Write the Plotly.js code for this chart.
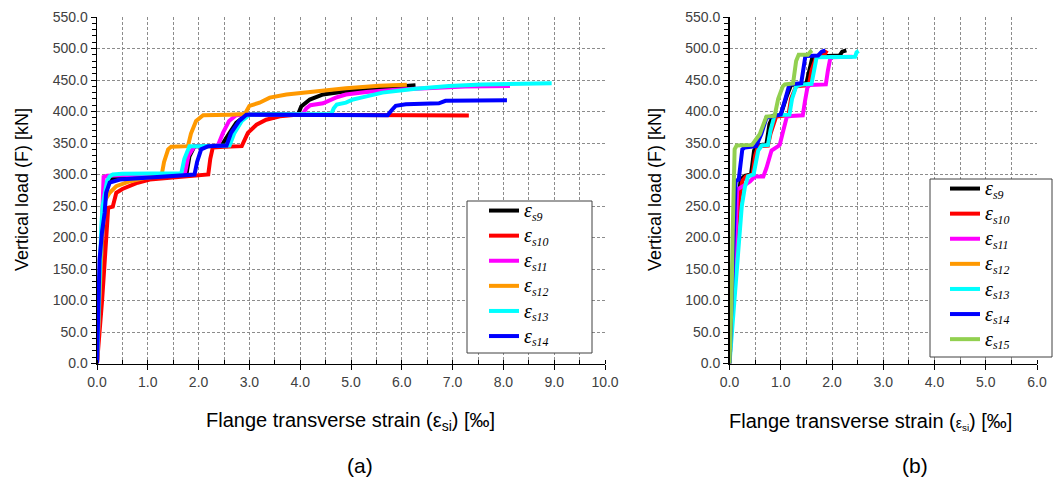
<!DOCTYPE html>
<html>
<head>
<meta charset="utf-8">
<script src="https://cdn.plot.ly/plotly-3.0.1.min.js"></script>
<style>html,body{margin:0;padding:0;background:#fff;}#chart{width:1053px;height:482px;}</style>
</head>
<body>
<div id="chart"></div>
<script>
// ---------- Data: panel (a) ----------
const a_s9_x  = [0, 0.03, 0.06, 0.1, 0.14, 0.18, 0.25, 0.5, 1.0, 1.5, 1.76, 1.82, 1.92, 2.2, 2.45, 2.61, 2.74, 2.94, 3.3, 3.96, 4.02, 4.19, 4.45, 4.9, 5.5, 6.0, 6.27];
const a_s9_F  = [0, 60, 130, 200, 250, 280, 293, 296, 298, 299, 300, 329, 345, 345, 346, 366, 382, 395, 395, 396, 408, 419, 427, 432, 437, 440, 441.6];
const a_s10_x = [0, 0.05, 0.1, 0.15, 0.18, 0.22, 0.31, 0.38, 0.5, 0.64, 0.8, 1.04, 1.3, 1.63, 1.99, 2.15, 2.19, 2.23, 2.28, 2.5, 2.85, 2.97, 3.14, 3.33, 3.6, 3.92, 4.5, 5.5, 6.5, 7.32];
const a_s10_F = [0, 45, 100, 160, 200, 247, 249, 271, 277, 282, 287, 292, 294, 296, 298, 300, 300, 325, 343, 344, 345, 366, 379, 387, 392.5, 395, 395, 394.5, 394, 393.5];
const a_s11_x = [0, 0.03, 0.06, 0.09, 0.11, 0.13, 0.2, 0.5, 1.0, 1.5, 1.73, 1.8, 1.92, 2.1, 2.38, 2.48, 2.6, 2.74, 3.0, 3.5, 4.05, 4.12, 4.2, 4.45, 4.55, 4.7, 4.9, 5.3, 5.95, 6.6, 7.25, 8.13];
const a_s11_F = [0, 70, 150, 230, 280, 296, 298, 299, 300, 300, 301, 330, 345, 345, 346, 366, 385, 394, 395, 395, 396, 405, 410, 413, 417, 422, 427, 431, 435, 438, 439.5, 440.5];
const a_s12_x = [0, 0.03, 0.06, 0.09, 0.12, 0.18, 0.25, 0.38, 0.64, 0.97, 1.27, 1.32, 1.4, 1.46, 1.6, 1.79, 1.85, 1.95, 2.09, 2.3, 2.6, 2.91, 2.96, 3.0, 3.2, 3.4, 3.73, 4.25, 4.9, 5.56, 6.1];
const a_s12_F = [0, 60, 130, 200, 250, 262, 271, 281.5, 289, 295, 298, 320, 340, 344, 344, 345, 365, 385, 394, 395, 395, 396, 405, 409, 414, 422, 427, 432, 437, 441, 442.5];
const a_s13_x = [0, 0.02, 0.04, 0.06, 0.085, 0.11, 0.15, 0.2, 0.25, 0.31, 0.5, 1.0, 1.4, 1.66, 1.72, 1.82, 2.0, 2.3, 2.61, 2.7, 2.85, 3.0, 3.5, 4.0, 4.61, 4.66, 4.72, 4.9, 5.04, 5.2, 5.43, 5.62, 6.27, 6.93, 7.58, 8.23, 8.95];
const a_s13_F = [0, 60, 112, 165, 218, 250, 271, 290, 297, 300, 301, 301.5, 302, 302, 325, 345, 345, 345, 346, 365, 385, 395, 395, 395, 396, 405, 411, 414, 419, 422, 427, 430, 436, 440.5, 443, 444.5, 445];
const a_s14_x = [0, 0.03, 0.05, 0.1, 0.15, 0.18, 0.25, 0.45, 0.97, 1.3, 1.63, 1.92, 1.97, 2.05, 2.19, 2.4, 2.55, 2.64, 2.8, 2.94, 3.5, 4.0, 4.5, 5.0, 5.5, 5.72, 5.8, 5.88, 6.08, 6.5, 6.73, 6.86, 7.5, 8.07];
const a_s14_F = [0, 100, 165, 210, 239, 271, 287, 292, 295, 297, 299, 300, 320, 340, 345, 345, 346, 366, 385, 395, 395, 395, 395, 394.5, 394, 394, 402, 409, 411.6, 412.5, 413, 417, 418, 418];

// ---------- Data: panel (b) ----------
const b_s9_x  = [0, 0.04, 0.08, 0.12, 0.16, 0.22, 0.3, 0.42, 0.48, 0.55, 0.72, 0.78, 0.85, 1.0, 1.12, 1.2, 1.5, 1.56, 1.62, 2.15, 2.2, 2.28];
const b_s9_F  = [0, 80, 150, 210, 255, 292, 298, 300, 338, 346, 348, 380, 393, 395, 425, 442, 445, 470, 487, 489, 495, 497];
const b_s10_x = [0, 0.04, 0.08, 0.12, 0.17, 0.25, 0.32, 0.45, 0.5, 0.56, 0.75, 0.8, 0.91, 1.15, 1.2, 1.3, 1.55, 1.6, 1.7, 1.85, 1.9];
const b_s10_F = [0, 70, 140, 200, 250, 290, 297, 300, 330, 345, 346, 365, 392, 394, 420, 440, 442, 465, 488, 490, 497];
const b_s11_x = [0, 0.04, 0.08, 0.12, 0.15, 0.31, 0.4, 0.5, 0.66, 0.72, 0.76, 0.82, 0.95, 0.98, 1.05, 1.12, 1.2, 1.43, 1.47, 1.52, 1.56, 1.88, 1.92, 1.97, 2.4];
const b_s11_F = [0, 60, 130, 210, 276, 284, 289, 297, 297, 310, 323, 338, 345, 347, 370, 392, 393, 394, 415, 438, 442, 443, 465, 486, 487];
const b_s12_x = [0, 0.03, 0.05];
const b_s12_F = [0, 60, 120];
const b_s13_x = [0, 0.05, 0.1, 0.14, 0.19, 0.24, 0.3, 0.36, 0.47, 0.52, 0.56, 0.63, 0.75, 0.8, 0.88, 1.17, 1.22, 1.3, 1.42, 1.6, 1.65, 1.7, 2.45, 2.48, 2.52];
const b_s13_F = [0, 50, 100, 150, 200, 250, 280, 297, 300, 320, 338, 346, 347, 370, 394, 395, 420, 440, 443, 444, 470, 486, 487, 494, 496];
const b_s14_x = [0, 0.03, 0.06, 0.1, 0.12, 0.18, 0.22, 0.25, 0.3, 0.52, 0.62, 0.72, 0.88, 1.0, 1.09, 1.17, 1.4, 1.44, 1.48, 1.73, 1.8, 1.87];
const b_s14_F = [0, 80, 150, 250, 290, 292, 330, 340, 343, 345, 364, 390, 393, 395, 420, 443, 445, 470, 488, 489, 495, 497];
const b_s15_x = [0, 0.02, 0.04, 0.06, 0.08, 0.1, 0.14, 0.44, 0.59, 0.72, 0.88, 0.95, 1.04, 1.08, 1.24, 1.3, 1.35, 1.53, 1.58, 1.61];
const b_s15_F = [0, 50, 100, 200, 300, 340, 346, 347, 364, 392, 393, 420, 440, 443, 444.5, 480, 490, 490, 495, 497];

// ---------- Labels ----------
const names_a = ['s9', 's10', 's11', 's12', 's13', 's14'];
const names_b = ['s9', 's10', 's11', 's12', 's13', 's14', 's15'];
const colors = {s9:'#000000', s10:'#ff0000', s11:'#ff00ff', s12:'#ff9900', s13:'#00ffff', s14:'#0000ff', s15:'#92d050'};
const yTitle = 'Vertical load (F) [kN]';
const xTitleA = 'Flange transverse strain (ε<sub>si</sub>) [‰]';
const xTitleB = 'Flange transverse strain (<span style="font-size:14px">ε<sub>si</sub></span>) [‰]';
const panelA = '(a)', panelB = '(b)';

const dataA = {s9:[a_s9_x,a_s9_F], s10:[a_s10_x,a_s10_F], s11:[a_s11_x,a_s11_F], s12:[a_s12_x,a_s12_F], s13:[a_s13_x,a_s13_F], s14:[a_s14_x,a_s14_F]};
const dataB = {s9:[b_s9_x,b_s9_F], s10:[b_s10_x,b_s10_F], s11:[b_s11_x,b_s11_F], s12:[b_s12_x,b_s12_F], s13:[b_s13_x,b_s13_F], s14:[b_s14_x,b_s14_F], s15:[b_s15_x,b_s15_F]};

const W = 1053, H = 482;
const px = v => v / W;
const py = v => 1 - v / H;
const legName = n => '<i><span style="font-size:20px">ε</span><sub>' + n + '</sub></i>';

const traces = [];
names_a.forEach(n => traces.push({
  x: dataA[n][0], y: dataA[n][1], type: 'scatter', mode: 'lines',
  name: legName(n), legend: 'legend',
  line: {color: colors[n], width: 4}, xaxis: 'x', yaxis: 'y'
}));
names_b.forEach(n => traces.push({
  x: dataB[n][0], y: dataB[n][1], type: 'scatter', mode: 'lines',
  name: legName(n), legend: 'legend2',
  line: {color: colors[n], width: 4}, xaxis: 'x2', yaxis: 'y2'
}));

const tickFont = {family: 'Liberation Sans, Arial, sans-serif', size: 14, color: '#404040'};
const gridCol = '#8c8c8c';
const gridDash = '3px,2px';
function xax(domain, range) {
  return {
    domain: domain, range: range, dtick: 1, tick0: 0, tickformat: '.1f',
    showgrid: true, gridcolor: gridCol, griddash: gridDash, gridwidth: 1,
    minor: {dtick: 0.5, tick0: 0, showgrid: true, gridcolor: gridCol, griddash: gridDash, gridwidth: 1, ticks: 'inside', ticklen: 4, tickcolor: '#000'},
    ticks: 'outside', ticklen: 5, tickcolor: '#000', tickwidth: 1,
    showline: true, linecolor: '#000', linewidth: 1.5, zeroline: false,
    tickfont: tickFont, automargin: false, fixedrange: true
  };
}
function yax(anchor) {
  return {
    domain: [py(363.5), py(17)], range: [0, 550], dtick: 50, tick0: 0, tickformat: '.1f',
    showgrid: true, gridcolor: gridCol, griddash: gridDash, gridwidth: 1,
    minor: {dtick: 10, tick0: 0, showgrid: false, ticks: 'outside', ticklen: 4, tickcolor: '#000'},
    ticks: 'outside', ticklen: 5, tickcolor: '#000', tickwidth: 1,
    showline: true, linecolor: '#000', linewidth: 1.5, zeroline: false,
    tickfont: tickFont, automargin: false, anchor: anchor, fixedrange: true
  };
}

const legFont = {family: 'Liberation Serif, DejaVu Serif, serif', size: 17, color: '#000'};
const titleFont = {family: 'Liberation Sans, Arial, sans-serif', size: 18, color: '#000'};
const layout = {
  width: W, height: H,
  margin: {l: 0, r: 0, t: 0, b: 0, pad: 0, autoexpand: false},
  paper_bgcolor: '#fff', plot_bgcolor: '#fff',
  xaxis: Object.assign(xax([px(97), px(605)], [0, 10]), {anchor: 'y'}),
  yaxis: yax('x'),
  xaxis2: Object.assign(xax([px(729.5), px(1037)], [0, 6]), {anchor: 'y2'}),
  yaxis2: yax('x2'),
  legend: {x: px(484), y: py(193), xanchor: 'left', yanchor: 'top', bgcolor: 'rgba(0,0,0,0)', borderwidth: 0,
           font: legFont, itemwidth: 30, traceorder: 'normal'},
  legend2: {x: px(945), y: py(171), xanchor: 'left', yanchor: 'top', bgcolor: 'rgba(0,0,0,0)', borderwidth: 0,
           font: legFont, itemwidth: 30, traceorder: 'normal'},
  shapes: [
    {type: 'rect', xref: 'paper', yref: 'paper', x0: px(467), x1: px(592), y0: py(353), y1: py(201), line: {color: '#404040', width: 1}, fillcolor: '#fff', layer: 'above'},
    {type: 'rect', xref: 'paper', yref: 'paper', x0: px(930), x1: px(1052), y0: py(357), y1: py(179), line: {color: '#404040', width: 1}, fillcolor: '#fff', layer: 'above'}
  ],
  annotations: [
    {text: yTitle, xref: 'paper', yref: 'paper', x: px(22), y: py(190), textangle: -90, showarrow: false, xanchor: 'center', yanchor: 'middle', font: titleFont},
    {text: yTitle, xref: 'paper', yref: 'paper', x: px(655), y: py(190), textangle: -90, showarrow: false, xanchor: 'center', yanchor: 'middle', font: titleFont},
    {text: xTitleA, xref: 'paper', yref: 'paper', x: px(350), y: py(421), showarrow: false, xanchor: 'center', yanchor: 'middle', font: Object.assign({}, titleFont, {size: 20})},
    {text: xTitleB, xref: 'paper', yref: 'paper', x: px(870), y: py(421), showarrow: false, xanchor: 'center', yanchor: 'middle', font: Object.assign({}, titleFont, {size: 20})},
    {text: panelA, xref: 'paper', yref: 'paper', x: px(360), y: py(465), showarrow: false, xanchor: 'center', yanchor: 'middle', font: Object.assign({}, titleFont, {size: 21})},
    {text: panelB, xref: 'paper', yref: 'paper', x: px(915), y: py(465), showarrow: false, xanchor: 'center', yanchor: 'middle', font: Object.assign({}, titleFont, {size: 21})}
  ]
};

Plotly.newPlot('chart', traces, layout, {staticPlot: true, displayModeBar: false});
</script>
</body>
</html>
